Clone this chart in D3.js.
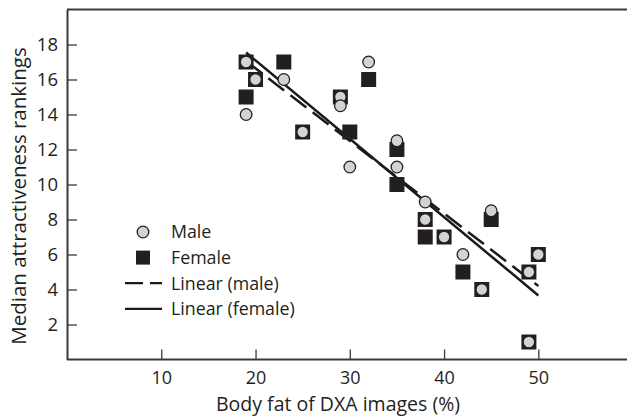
<!DOCTYPE html>
<html><head><meta charset="utf-8">
<script src="https://cdn.jsdelivr.net/npm/d3@7"></script>
<style>
html,body{margin:0;padding:0;background:#fff;}
svg{display:block;}
text{font-family:"Open Sans","Noto Sans",sans-serif;fill:#231f20;}
</style></head><body>
<svg id="chart" width="627" height="416"></svg>
<script>
// ---- data ----
const maleX   = [19, 20, 19, 23, 25, 29, 29, 30, 32, 35, 35, 38, 38, 40, 42, 44, 45, 50, 49, 49];
const maleY   = [17, 16, 14, 16, 13, 15, 14.5, 11, 17, 12.5, 11, 9, 8, 7, 6, 4, 8.5, 6, 5, 1];
const femaleX = [19, 20, 19, 23, 25, 29, 30, 32, 35, 35, 38, 38, 40, 42, 44, 45, 50, 49, 49];
const femaleY = [17, 16, 15, 17, 13, 15, 13, 16, 12, 10, 8, 7, 7, 5, 4, 8, 6, 5, 1];
const maleFitX = [19, 50];
const maleFitY = [17.05, 4.2];
const femaleFitX = [19, 50];
const femaleFitY = [17.54, 3.66];
const xTicks = [10, 20, 30, 40, 50];
const yTicks = [2, 4, 6, 8, 10, 12, 14, 16, 18];
const legendLabels = ["Male", "Female", "Linear (male)", "Linear (female)"];
const xTitle = "Body fat of DXA images (%)";
const yTitle = "Median attractiveness rankings";

// ---- chart ----
const svg = d3.select("#chart");
const x = d3.scaleLinear().domain([0, 59.3]).range([67, 626]);
const y = d3.scaleLinear().domain([0, 20]).range([359.5, 9.5]);
const axisColor = "#3a3a3a";
const ff = '"Open Sans","Noto Sans",sans-serif';

// frame top line
svg.append("line").attr("x1", x(0)).attr("x2", 627).attr("y1", y(20)).attr("y2", y(20))
  .attr("stroke", axisColor).attr("stroke-width", 2);

const xAxis = svg.append("g").attr("transform", `translate(0,${y(0)})`)
  .call(d3.axisBottom(x).tickValues(xTicks).tickSizeInner(-10).tickSizeOuter(0).tickPadding(12).tickFormat(d3.format("d")));
xAxis.select(".domain").attr("stroke", axisColor).attr("stroke-width", 2).attr("d", `M${x(0)},0H627`);
xAxis.selectAll(".tick line").attr("stroke", axisColor).attr("stroke-width", 1.3);
xAxis.selectAll("text").attr("font-size", 18).attr("fill", "#231f20").style("font-family", ff);

const yAxis = svg.append("g").attr("transform", `translate(${x(0)},0)`)
  .call(d3.axisLeft(y).tickValues(yTicks).tickSizeInner(-10).tickSizeOuter(0).tickPadding(9).tickFormat(d3.format("d")));
yAxis.select(".domain").attr("stroke", axisColor).attr("stroke-width", 2);
yAxis.selectAll(".tick line").attr("stroke", axisColor).attr("stroke-width", 1.3);
yAxis.selectAll("text").attr("font-size", 18.5).attr("fill", "#231f20").style("font-family", ff);

// titles
svg.append("text").attr("x", 338).attr("y", 411).attr("text-anchor", "middle")
  .attr("font-size", 19.5).text(xTitle);
svg.append("text").attr("transform", `translate(26,196) rotate(-90)`).attr("text-anchor", "middle")
  .attr("font-size", 20.5).text(yTitle);

// fit lines
const line = d3.line().x(d => x(d[0])).y(d => y(d[1]));
svg.append("path").datum(femaleFitX.map((v, i) => [v, femaleFitY[i]]))
  .attr("d", line).attr("fill", "none").attr("stroke", "#1a1a1a").attr("stroke-width", 2.5);
svg.append("path").datum(maleFitX.map((v, i) => [v, maleFitY[i]]))
  .attr("d", line).attr("fill", "none").attr("stroke", "#1a1a1a").attr("stroke-width", 2.5)
  .attr("stroke-dasharray", "20,8");

// points
const sq = 15;
svg.append("g").selectAll("rect").data(femaleX.map((v, i) => [v, femaleY[i]])).join("rect")
  .attr("x", d => x(d[0]) - sq / 2).attr("y", d => y(d[1]) - sq / 2)
  .attr("width", sq).attr("height", sq).attr("fill", "#231f20");
svg.append("g").selectAll("circle").data(maleX.map((v, i) => [v, maleY[i]])).join("circle")
  .attr("cx", d => x(d[0])).attr("cy", d => y(d[1])).attr("r", 5.8)
  .attr("fill", "#d1d3d4").attr("stroke", "#231f20").attr("stroke-width", 1.3);

// legend
const lg = svg.append("g");
const rowY = i => 232 + i * 25.6;
lg.append("circle").attr("cx", 143).attr("cy", rowY(0)).attr("r", 5.8)
  .attr("fill", "#d1d3d4").attr("stroke", "#231f20").attr("stroke-width", 1.3);
lg.append("rect").attr("x", 143 - 7).attr("y", rowY(1) - 7).attr("width", 14).attr("height", 14).attr("fill", "#231f20");
lg.append("line").attr("x1", 125).attr("x2", 162).attr("y1", rowY(2)).attr("y2", rowY(2))
  .attr("stroke", "#1a1a1a").attr("stroke-width", 2.3).attr("stroke-dasharray", "18,7");
lg.append("line").attr("x1", 125).attr("x2", 162).attr("y1", rowY(3)).attr("y2", rowY(3))
  .attr("stroke", "#1a1a1a").attr("stroke-width", 2.3);
lg.selectAll("text.lab").data(legendLabels).join("text").attr("class", "lab")
  .attr("x", 171).attr("y", (d, i) => rowY(i)).attr("dy", "0.36em")
  .attr("font-size", 17.8).text(d => d);
</script>
</body></html>
